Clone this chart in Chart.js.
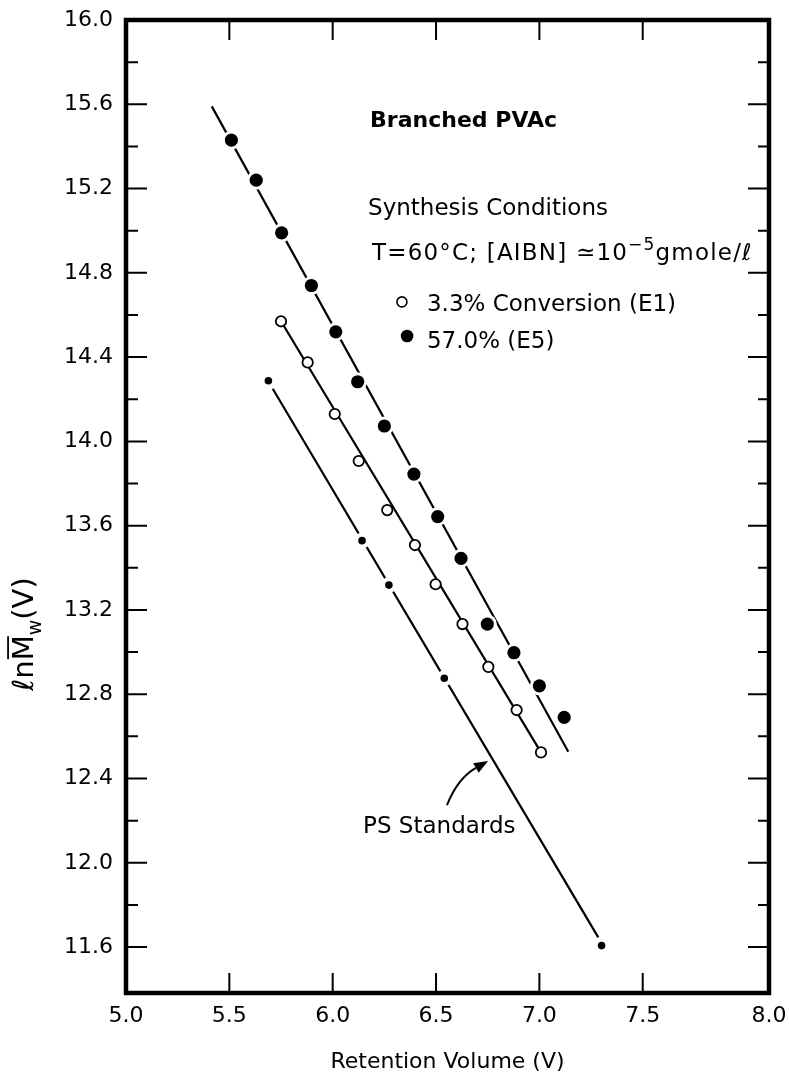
<!DOCTYPE html>
<html>
<head>
<meta charset="utf-8">
<script src="https://cdn.jsdelivr.net/npm/chart.js@4.4.1/dist/chart.umd.min.js"></script>
<style>
html,body{margin:0;padding:0;background:#fff;}
#wrap{width:789px;height:1076px;position:relative;}
</style>
</head>
<body>
<div id="wrap"><canvas id="c"></canvas></div>
<script>
// ---------------- data ----------------
const e5RetentionVolume = [5.51, 5.63, 5.753, 5.897, 6.015, 6.121, 6.25, 6.393, 6.508, 6.621, 6.748, 6.877, 7.0, 7.12];
const e5LnMw            = [15.43, 15.24, 14.99, 14.74, 14.52, 14.283, 14.073, 13.845, 13.643, 13.445, 13.133, 12.997, 12.84, 12.69];

const e1RetentionVolume = [5.75, 5.879, 6.01, 6.126, 6.264, 6.398, 6.498, 6.628, 6.753, 6.89, 7.008];
const e1LnMw            = [14.57, 14.375, 14.13, 13.907, 13.674, 13.508, 13.322, 13.133, 12.93, 12.725, 12.524];

const psRetentionVolume = [5.689, 6.142, 6.272, 6.54, 7.301];
const psLnMw            = [14.288, 13.529, 13.318, 12.876, 11.607];

// fitted calibration lines (end points)
const e5FitX = [5.415, 7.14];
const e5FitY = [15.59, 12.527];
const e1FitX = [5.75, 7.008];
const e1FitY = [14.57, 12.524];
const psFitX = [5.71, 7.285];
const psFitY = [14.25, 11.646];

// axes
const xMin = 5.0, xMax = 8.111;
const yMin = 11.382, yMax = 16.0;
const xTickValues = [5.0, 5.5, 6.0, 6.5, 7.0, 7.5];          // last label sits on the right frame
const xTickLabels = ['5.0', '5.5', '6.0', '6.5', '7.0', '7.5', '8.0'];
const yTickValues = [11.6, 12.0, 12.4, 12.8, 13.2, 13.6, 14.0, 14.4, 14.8, 15.2, 15.6, 16.0];
const yMinorTickValues = [11.8, 12.2, 12.6, 13.0, 13.4, 13.8, 14.2, 14.6, 15.0, 15.4, 15.8];

// ---------------- annotation anchors (data units) ----------------
const FONT = 'DejaVu Sans';
const notes = {
  yTitle:    {x: 4.502, y: 13.086},
  branched:  {x: 6.181, y: 15.492},
  synthesis: {x: 6.171, y: 15.075},
  tLine:     {x: 6.19, y: 14.861},
  e1Mark:    {x: 6.335, y: 14.662},
  e1Text:    {x: 6.456, y: 14.619},
  e5Mark:    {x: 6.360, y: 14.500},
  e5Text:    {x: 6.456, y: 14.443},
  psText:    {x: 6.147, y: 12.141},
  arrowFrom: {x: 6.553, y: 12.274},
  arrowCtrl: {x: 6.606, y: 12.402},
  arrowTip:  {x: 6.752, y: 12.483}
};

const zip = (xs, ys) => xs.map((v, i) => ({x: v, y: ys[i]}));

function P(chart, p) {
  return [chart.scales.x.getPixelForValue(p.x), chart.scales.y.getPixelForValue(p.y)];
}

function drawRuns(ctx, x, y, runs) {
  let cx = x;
  runs.forEach(r => {
    ctx.font = r.font;
    ctx.fillText(r.text, cx, y + (r.dy || 0));
    cx += ctx.measureText(r.text).width;
  });
}

const decor = {
  id: 'decor',
  beforeDraw(chart) {
    const c = chart.ctx;
    c.save();
    c.fillStyle = '#fff';
    c.fillRect(0, 0, chart.width, chart.height);
    c.restore();
  },
  afterDatasetsDraw(chart) {
    const {ctx, chartArea: a, scales: {x, y}} = chart;
    ctx.save();
    ctx.strokeStyle = '#000';
    ctx.lineCap = 'butt';
    ctx.lineWidth = 2;
    ctx.beginPath();
    yTickValues.forEach(v => {
      if (v >= y.max - 1e-6 || v <= y.min) return;
      const p = y.getPixelForValue(v);
      ctx.moveTo(a.left, p); ctx.lineTo(a.left + 21, p);
      ctx.moveTo(a.right, p); ctx.lineTo(a.right - 21, p);
    });
    yMinorTickValues.forEach(v => {
      const p = y.getPixelForValue(v);
      ctx.moveTo(a.left, p); ctx.lineTo(a.left + 12, p);
      ctx.moveTo(a.right, p); ctx.lineTo(a.right - 11, p);
    });
    xTickValues.forEach(v => {
      if (v <= x.min) return;
      const p = x.getPixelForValue(v);
      ctx.moveTo(p, a.bottom); ctx.lineTo(p, a.bottom - 20);
      ctx.moveTo(p, a.top); ctx.lineTo(p, a.top + 20);
    });
    ctx.stroke();
    ctx.lineWidth = 4.5;
    ctx.strokeRect(a.left, a.top, a.right - a.left, a.bottom - a.top);
    ctx.restore();
  },
  afterDraw(chart) {
    const ctx = chart.ctx;
    ctx.save();
    ctx.fillStyle = '#000';
    ctx.strokeStyle = '#000';
    ctx.textBaseline = 'alphabetic';
    ctx.textAlign = 'left';

    // y-axis title: ln M̄w (V)
    let [tx, ty] = P(chart, notes.yTitle);
    ctx.save();
    ctx.translate(tx, ty);
    ctx.rotate(-Math.PI / 2);
    const big = '29px "' + FONT + '"', small = '19px "' + FONT + '"';
    const runs = [
      {text: '\u2113n', font: big},
      {text: 'M', font: big},
      {text: 'w', font: small, dy: 8},
      {text: '(V)', font: big}
    ];
    let total = 0, mStart = 0, mW = 0;
    runs.forEach((r, i) => { ctx.font = r.font; const w = ctx.measureText(r.text).width; if (i === 1) { mStart = total; mW = w; } total += w; });
    const x0 = -total / 2, base = 10;
    drawRuns(ctx, x0, base, runs);
    ctx.lineWidth = 1.8;
    ctx.beginPath();
    ctx.moveTo(x0 + mStart + 1, base - 25);
    ctx.lineTo(x0 + mStart + mW - 1, base - 25);
    ctx.stroke();
    ctx.restore();

    const f23 = '23px "' + FONT + '"';
    // Branched PVAc
    [tx, ty] = P(chart, notes.branched);
    ctx.font = 'bold 22px "' + FONT + '"';
    ctx.fillText('Branched PVAc', tx, ty);
    // Synthesis Conditions
    [tx, ty] = P(chart, notes.synthesis);
    ctx.font = f23;
    ctx.fillText('Synthesis Conditions', tx, ty);
    // T line
    [tx, ty] = P(chart, notes.tLine);
    ctx.save();
    ctx.letterSpacing = '1.2px';
    drawRuns(ctx, tx, ty, [
      {text: 'T=60\u00B0C; [AIBN] \u224310', font: f23},
      {text: '\u22125', font: '17px "' + FONT + '"', dy: -10},
      {text: 'gmole/\u2113', font: f23}
    ]);
    ctx.restore();
    // legend lines
    [tx, ty] = P(chart, notes.e1Mark);
    ctx.fillStyle = '#fff';
    ctx.lineWidth = 1.6;
    ctx.beginPath(); ctx.arc(tx, ty, 5, 0, Math.PI * 2); ctx.fill(); ctx.stroke();
    ctx.fillStyle = '#000';
    [tx, ty] = P(chart, notes.e1Text);
    ctx.font = f23;
    ctx.fillText('3.3% Conversion (E1)', tx, ty);
    [tx, ty] = P(chart, notes.e5Mark);
    ctx.beginPath(); ctx.arc(tx, ty, 6.3, 0, Math.PI * 2); ctx.fill();
    [tx, ty] = P(chart, notes.e5Text);
    ctx.fillText('57.0% (E5)', tx, ty);
    // PS Standards + arrow
    [tx, ty] = P(chart, notes.psText);
    ctx.fillText('PS Standards', tx, ty);
    const [ax, ay] = P(chart, notes.arrowFrom);
    const [cx, cy] = P(chart, notes.arrowCtrl);
    const [px, py] = P(chart, notes.arrowTip);
    const ang = Math.atan2(py - cy, px - cx);
    const hl = 14, hw = 5.5;
    const bx = px - hl * Math.cos(ang), by = py - hl * Math.sin(ang);
    ctx.lineWidth = 2;
    ctx.beginPath();
    ctx.moveTo(ax, ay);
    ctx.quadraticCurveTo(cx, cy, bx, by);
    ctx.stroke();
    ctx.beginPath();
    ctx.moveTo(px, py);
    ctx.lineTo(bx + hw * Math.sin(ang), by - hw * Math.cos(ang));
    ctx.lineTo(bx - hw * Math.sin(ang), by + hw * Math.cos(ang));
    ctx.closePath();
    ctx.fill();
    ctx.restore();
  }
};

Chart.defaults.font.family = FONT;
Chart.defaults.color = '#000';

new Chart(document.getElementById('c'), {
  type: 'scatter',
  data: {
    datasets: [
      {label: '57.0% (E5)', data: zip(e5RetentionVolume, e5LnMw), showLine: false,
       pointRadius: 6.6, pointBackgroundColor: '#000', pointBorderWidth: 0, order: 0},
      {label: '3.3% Conversion (E1)', data: zip(e1RetentionVolume, e1LnMw), showLine: false,
       pointRadius: 5.2, pointBackgroundColor: '#fff', pointBorderColor: '#000', pointBorderWidth: 1.8, order: 1},
      {label: 'PS Standards', data: zip(psRetentionVolume, psLnMw), showLine: false,
       pointRadius: 3.8, pointBackgroundColor: '#000', pointBorderWidth: 0, order: 2},
      {label: 'E5 gap', data: zip(e5RetentionVolume, e5LnMw), showLine: false,
       pointRadius: 9.5, pointBackgroundColor: '#fff', pointBorderWidth: 0, order: 3},
      {label: 'PS gap', data: zip(psRetentionVolume, psLnMw), showLine: false,
       pointRadius: 8, pointBackgroundColor: '#fff', pointBorderWidth: 0, order: 4},
      {label: 'E5 fit', data: zip(e5FitX, e5FitY), showLine: true, borderColor: '#000',
       borderWidth: 2.2, pointRadius: 0, order: 5},
      {label: 'E1 fit', data: zip(e1FitX, e1FitY), showLine: true, borderColor: '#000',
       borderWidth: 2.2, pointRadius: 0, order: 6},
      {label: 'PS fit', data: zip(psFitX, psFitY), showLine: true, borderColor: '#000',
       borderWidth: 2.2, pointRadius: 0, order: 7}
    ]
  },
  options: {
    responsive: true,
    maintainAspectRatio: false,
    animation: false,
    events: [],
    layout: {padding: {top: 20, right: 20, left: 0, bottom: 0}},
    plugins: {legend: {display: false}, tooltip: {enabled: false}},
    scales: {
      x: {
        type: 'linear', min: xMin, max: xMax,
        afterBuildTicks: s => { s.ticks = xTickValues.map(v => ({value: v})).concat([{value: s.max}]); },
        afterFit: s => { s.height = 83; s.paddingLeft = 0; s.paddingRight = 0; },
        ticks: {autoSkip: false, maxRotation: 0, padding: 10, font: {size: 22}, color: '#000',
                callback: (v, i) => xTickLabels[i]},
        grid: {display: false, drawTicks: false},
        border: {display: false},
        title: {display: true, text: 'Retention Volume (V)', font: {size: 22}, color: '#000',
                padding: {top: 0, bottom: 1}}
      },
      y: {
        type: 'linear', min: yMin, max: yMax,
        afterBuildTicks: s => { s.ticks = yTickValues.map(v => ({value: v})); },
        afterFit: s => { s.width = 126; s.paddingTop = 0; s.paddingBottom = 0; },
        ticks: {autoSkip: false, padding: 13, font: {size: 22}, color: '#000',
                callback: v => v.toFixed(1)},
        grid: {display: false, drawTicks: false},
        border: {display: false}
      }
    }
  },
  plugins: [decor]
});
</script>
</body>
</html>
